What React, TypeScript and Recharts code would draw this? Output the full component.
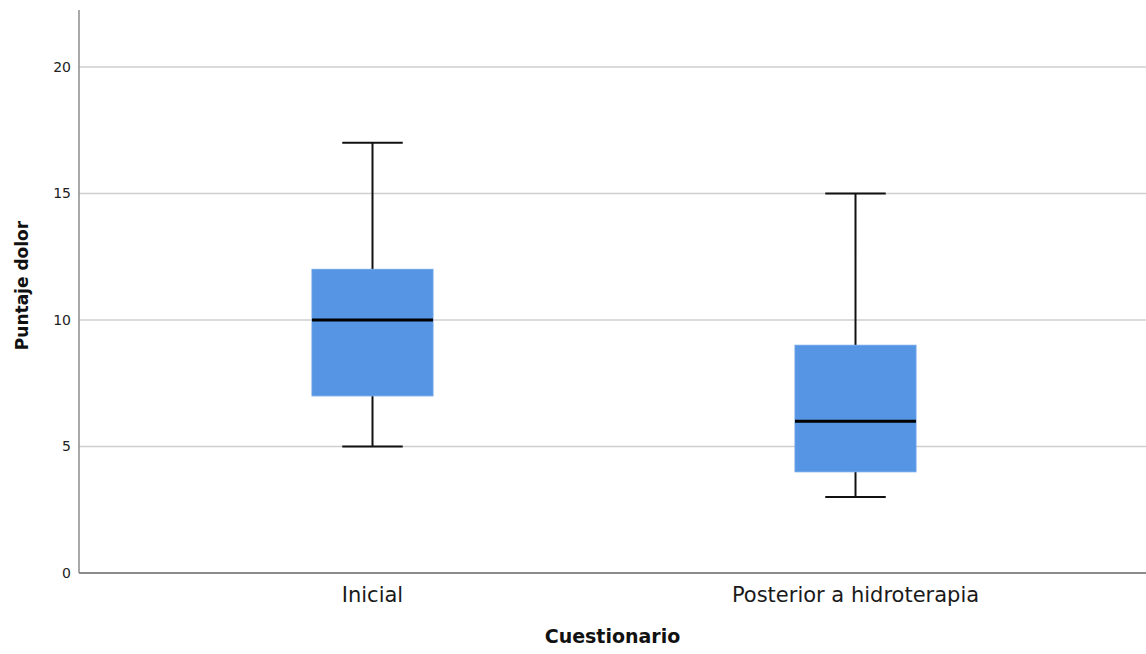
import React from 'react';
import { ComposedChart, Bar, XAxis, YAxis, CartesianGrid } from 'recharts';

const categories = ['Inicial', 'Posterior a hidroterapia'];
const minValues = [5, 3];
const q1Values = [7, 4];
const medianValues = [10, 6];
const q3Values = [12, 9];
const maxValues = [17, 15];
const yTicks = [0, 5, 10, 15, 20];
const gridValues = [5, 10, 15, 20];

const data = categories.map((name, i) => ({
  name,
  min: minValues[i],
  q1: q1Values[i],
  median: medianValues[i],
  q3: q3Values[i],
  max: maxValues[i],
  range: [minValues[i], maxValues[i]],
}));

const FONT = '"DejaVu Sans", Verdana, sans-serif';

// draws one box from the whisker range bar; y positions come from the bar's own scaling
function BoxShape(props: any) {
  const { x, y, width, height, payload } = props;
  const { min, q1, median, q3, max } = payload;
  const unit = height / (max - min);
  const yOf = (v: number) => y + (max - v) * unit;
  const cx = x + width / 2;
  const cap = width / 2;
  return (
    <g>
      <line x1={cx} x2={cx} y1={yOf(max)} y2={yOf(q3)} stroke="#111" strokeWidth={2} />
      <line x1={cx} x2={cx} y1={yOf(q1)} y2={yOf(min)} stroke="#111" strokeWidth={2} />
      <line x1={cx - cap / 2} x2={cx + cap / 2} y1={yOf(max)} y2={yOf(max)} stroke="#111" strokeWidth={2} />
      <line x1={cx - cap / 2} x2={cx + cap / 2} y1={yOf(min)} y2={yOf(min)} stroke="#111" strokeWidth={2} />
      <rect x={x} y={yOf(q3)} width={width} height={yOf(q1) - yOf(q3)} fill="#5595E3" stroke="#6aa2e8" strokeWidth={1} />
      <line x1={x} x2={x + width} y1={yOf(median)} y2={yOf(median)} stroke="#000" strokeWidth={3} />
    </g>
  );
}

export default function App() {
  return (
    <div style={{ position: 'absolute', left: 0, top: 0, width: 1146, height: 654, background: '#fff' }}>
      <ComposedChart width={1146} height={654} data={data} margin={{ top: 10, right: 0, left: 0, bottom: 0 }}>
        <CartesianGrid vertical={false} horizontalValues={gridValues} stroke="#cfcfcf" strokeWidth={1.5} />
        <XAxis
          dataKey="name"
          height={81}
          padding={{ left: 52, right: 49 }}
          axisLine={{ stroke: '#8c8c8c', strokeWidth: 2 }}
          tickLine={false}
          tickMargin={8}
          tick={{ fontSize: 21, fill: '#1a1a1a', fontFamily: FONT }}
          label={{
            content: (p: any) => {
              const vb = p.viewBox;
              return (
                <text x={vb.x + vb.width / 2} y={vb.y + 70} textAnchor="middle" fontSize={19} fontWeight="bold" fill="#111" fontFamily={FONT}>
                  Cuestionario
                </text>
              );
            },
          }}
        />
        <YAxis
          width={79}
          domain={[0, 22.25]}
          ticks={yTicks}
          allowDataOverflow
          axisLine={{ stroke: '#8c8c8c', strokeWidth: 1.5 }}
          tickLine={false}
          tick={{ fontSize: 14, fill: '#222', fontFamily: FONT }}
          label={{
            content: (p: any) => {
              const vb = p.viewBox;
              const cy = vb.y + vb.height / 2 - 6;
              return (
                <text x={22} y={cy} transform={`rotate(-90 22 ${cy})`} textAnchor="middle" dominantBaseline="central" fontSize={17} fontWeight="bold" fill="#111" fontFamily={FONT}>
                  Puntaje dolor
                </text>
              );
            },
          }}
        />
        <Bar dataKey="range" barSize={121} shape={<BoxShape />} isAnimationActive={false} />
      </ComposedChart>
    </div>
  );
}
